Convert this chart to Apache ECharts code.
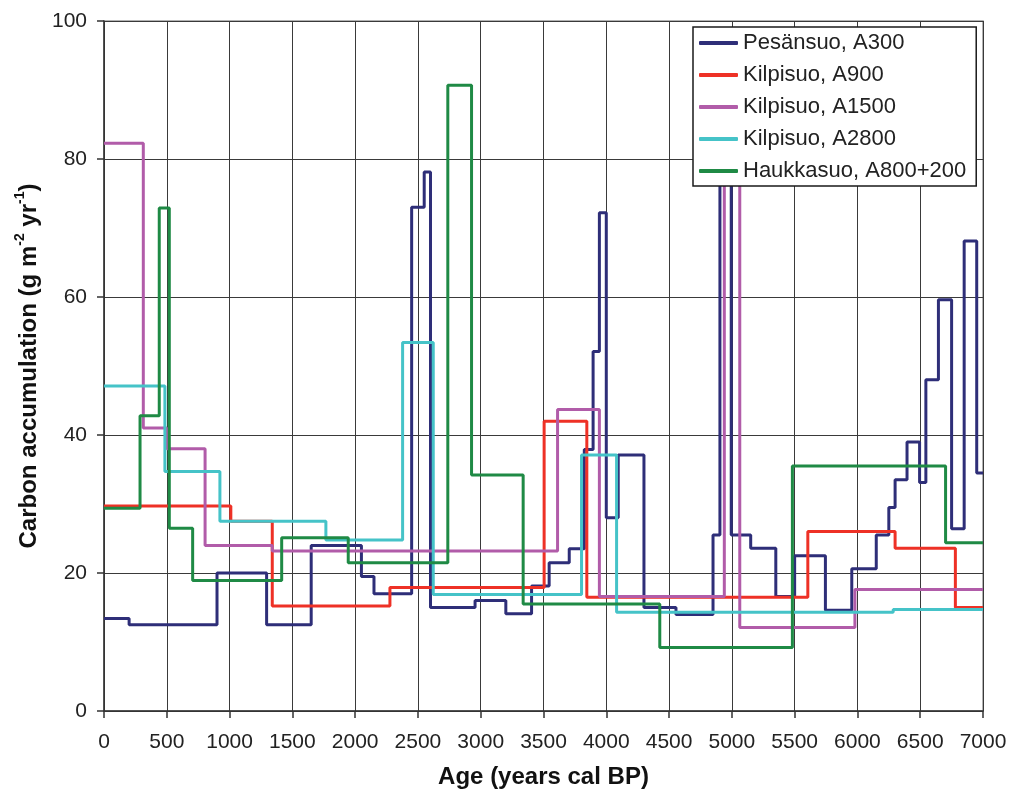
<!DOCTYPE html>
<html>
<head>
<meta charset="utf-8">
<script src="https://cdn.jsdelivr.net/npm/echarts@6/dist/echarts.min.js"></script>
<style>
html,body{margin:0;padding:0;background:#fff;}
#chart{width:1012px;height:796px;}
</style>
</head>
<body>
<div id="chart"></div>
<script>
// Step series: age where a value starts (years cal BP) and the carbon accumulation value from that age
const seriesNames = ['Pesänsuo, A300', 'Kilpisuo, A900', 'Kilpisuo, A1500', 'Kilpisuo, A2800', 'Haukkasuo, A800+200'];

const pesansuoAge = [0, 200, 900, 1295, 1650, 2050, 2150, 2450, 2550, 2600, 2955, 3200, 3405, 3545, 3705, 3825, 3895, 3945, 4000, 4095, 4300, 4555, 4850, 4905, 4995, 5150, 5350, 5500, 5745, 5955, 6150, 6250, 6300, 6395, 6495, 6545, 6645, 6750, 6850, 6950, 7000];
const pesansuoC   = [13.4, 12.5, 20.0, 12.5, 24.0, 19.5, 17.0, 73.0, 78.1, 15.0, 16.0, 14.1, 18.1, 21.5, 23.5, 37.9, 52.1, 72.2, 28.0, 37.1, 15.0, 14.0, 25.5, 88.0, 25.5, 23.6, 16.6, 22.5, 14.6, 20.6, 25.5, 29.5, 33.5, 39.0, 33.1, 48.0, 59.6, 26.4, 68.1, 34.5, 34.5];

const kilpisuoA900Age = [0, 1010, 1340, 2277, 3505, 3845, 5605, 6300, 6780, 7000];
const kilpisuoA900C   = [29.7, 27.5, 15.2, 17.9, 42.0, 16.5, 26.0, 23.6, 15.0, 15.0];

const kilpisuoA1500Age = [0, 313, 500, 805, 1340, 3612, 3945, 4940, 5063, 5980, 7000];
const kilpisuoA1500C   = [82.3, 41.0, 38.0, 24.0, 23.2, 43.7, 16.6, 88.0, 12.1, 17.6, 17.6];

const kilpisuoA2800Age = [0, 485, 923, 1767, 2378, 2622, 3803, 4082, 6285, 7000];
const kilpisuoA2800C   = [47.1, 34.7, 27.5, 24.8, 53.4, 16.9, 37.1, 14.3, 14.7, 14.7];

const haukkasuoAge = [0, 287, 440, 520, 706, 1415, 1945, 2738, 2927, 3338, 4426, 5482, 6702, 7000];
const haukkasuoC   = [29.4, 42.8, 72.9, 26.5, 18.9, 25.1, 21.5, 90.7, 34.2, 15.5, 9.2, 35.5, 24.4, 24.4];

const xTicks = [0, 500, 1000, 1500, 2000, 2500, 3000, 3500, 4000, 4500, 5000, 5500, 6000, 6500, 7000];
const yTicks = [0, 20, 40, 60, 80, 100];

const colors = ['#2e2e78', '#ee3126', '#b15ca9', '#45c3c8', '#1f8a45'];

const ages = [pesansuoAge, kilpisuoA900Age, kilpisuoA1500Age, kilpisuoA2800Age, haukkasuoAge];
const vals = [pesansuoC, kilpisuoA900C, kilpisuoA1500C, kilpisuoA2800C, haukkasuoC];

const FONT = 'Liberation Sans, Arial, sans-serif';
const chart = echarts.init(document.getElementById('chart'), null, {renderer: 'canvas'});
const series = seriesNames.map((n, i) => ({
  name: n,
  type: 'line',
  step: 'end',
  symbol: 'none',
  showSymbol: false,
  z: 3 + i,
  data: ages[i].map((a, j) => [a, vals[i][j]]),
  lineStyle: {color: colors[i], width: 3},
  itemStyle: {color: colors[i]},
  animation: false
}));

chart.setOption({
  backgroundColor: '#fff',
  animation: false,
  textStyle: {fontFamily: FONT},
  grid: {left: 104, right: 29, top: 21, bottom: 85, show: true, borderColor: '#999', borderWidth: 1.5, backgroundColor: 'transparent'},
  legend: {
    orient: 'vertical',
    left: 693, top: 27,
    width: 283,
    backgroundColor: '#fff',
    borderColor: '#1a1a1a',
    borderWidth: 1.5,
    borderRadius: 0,
    padding: [5, 10, 4, 6],
    icon: 'roundRect',
    itemWidth: 39,
    itemHeight: 4,
    itemGap: 10,
    z: 20,
    textStyle: {fontSize: 22, color: '#222', fontFamily: FONT, lineHeight: 22},
    data: seriesNames.map((n, i) => ({name: n, itemStyle: {color: colors[i]}}))
  },
  xAxis: {
    type: 'value',
    min: 0, max: 7000, interval: 500,
    name: 'Age (years cal BP)',
    nameLocation: 'middle',
    nameGap: 54,
    nameTextStyle: {fontSize: 24, fontWeight: 'bold', color: '#111', fontFamily: FONT},
    axisLine: {show: true, onZero: false, lineStyle: {color: '#333', width: 1.5}},
    axisTick: {show: true, inside: false, length: 7, lineStyle: {color: '#333', width: 1.5}},
    axisLabel: {fontSize: 21, color: '#222', margin: 21, formatter: v => xTicks.includes(v) ? String(v) : ''},
    splitLine: {show: true, lineStyle: {color: '#3a3a3a', width: 1}}
  },
  yAxis: {
    type: 'value',
    min: 0, max: 100, interval: 20,
    name: '{a|Carbon accumulation (g m}{s|-2}{a| yr}{s|-1}{a|)}',
    nameLocation: 'middle',
    nameRotate: 90,
    nameGap: 60,
    nameTextStyle: {
      fontSize: 24, fontWeight: 'bold', color: '#111',
      rich: {
        a: {fontSize: 24, fontWeight: 'bold', color: '#111', lineHeight: 28, verticalAlign: 'bottom', fontFamily: FONT},
        s: {fontSize: 14, fontWeight: 'bold', color: '#111', lineHeight: 28, verticalAlign: 'top', fontFamily: FONT}
      }
    },
    axisLine: {show: true, lineStyle: {color: '#333', width: 1.5}},
    axisTick: {show: true, inside: false, length: 7, lineStyle: {color: '#333', width: 1.5}},
    axisLabel: {fontSize: 21, color: '#222', margin: 17, formatter: v => yTicks.includes(v) ? String(v) : ''},
    splitLine: {show: true, lineStyle: {color: '#3a3a3a', width: 1}}
  },
  series: series
});
</script>
</body>
</html>
